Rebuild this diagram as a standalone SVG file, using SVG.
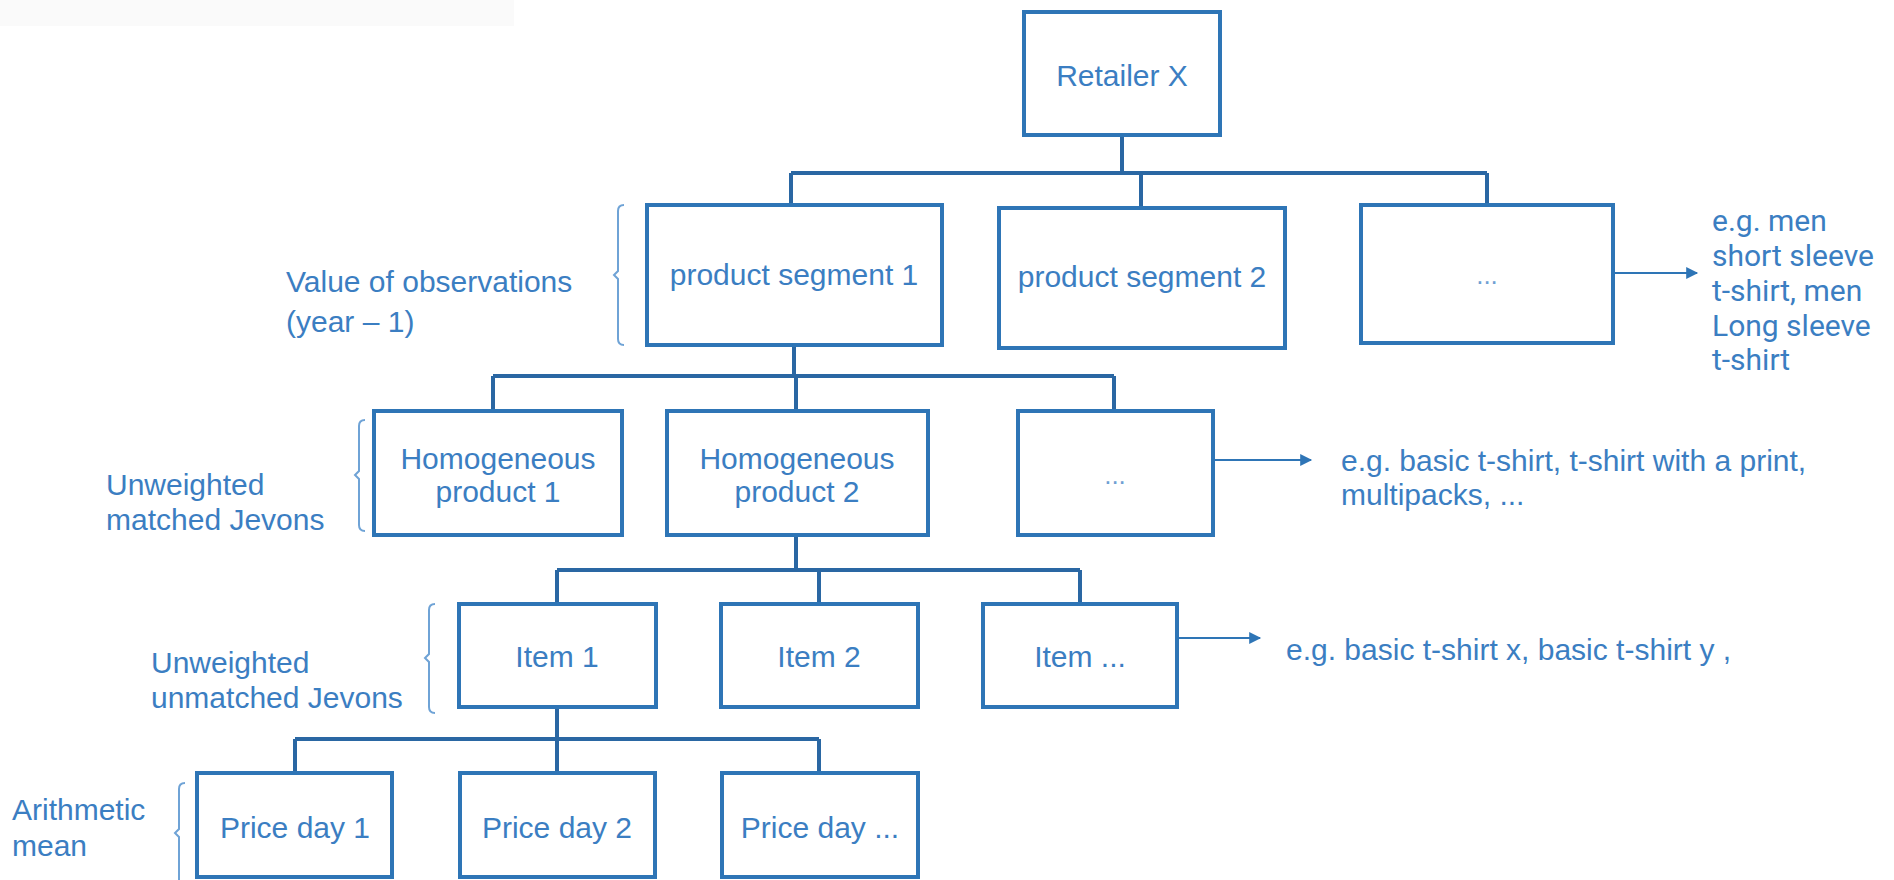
<svg xmlns="http://www.w3.org/2000/svg" width="1894" height="880" viewBox="0 0 1894 880">
  <style>
    .box { fill: #ffffff; stroke: #2e75b6; stroke-width: 4; }
    .link { fill: none; stroke: #2a67a3; stroke-width: 4; }
    .arrow { fill: none; stroke: #2e75b6; stroke-width: 2; marker-end: url(#head); }
    .brace { fill: none; stroke: #6fa3d6; stroke-width: 2; }
    .t { font-family: "Liberation Sans", Arial, sans-serif; font-size: 30px; fill: #3b7ec2; }
    .c { text-anchor: middle; }
    .dots { font-family: "Liberation Sans", Arial, sans-serif; font-size: 26px; fill: #6f9fd3; text-anchor: middle; }
    .note { font-family: Roboto, "Liberation Sans", sans-serif; font-size: 30px; fill: #3b7ec2; }
  </style>
  <defs>
    <marker id="head" viewBox="0 0 10 10" refX="9" refY="5" markerWidth="7.5" markerHeight="6" orient="auto" markerUnits="strokeWidth">
      <path d="M0,0 L10,5 L0,10 z" fill="#2e75b6"/>
    </marker>
  </defs>
  <rect width="1894" height="880" fill="#ffffff"/>
  <rect x="0" y="0" width="514" height="26" fill="#fafafa"/>

  <!-- connectors -->
  <g id="connectors">
    <path class="link" d="M1122,135 V173 M791,173 H1487 M791,173 V205 M1141,173 V208 M1487,173 V205"/>
    <path class="link" d="M794,345 V376 M493,376 H1114 M493,376 V411 M796,376 V411 M1114,376 V411"/>
    <path class="link" d="M796,535 V570 M557,570 H1080 M557,570 V604 M819,570 V604 M1080,570 V604"/>
    <path class="link" d="M557,707 V739 M295,739 H819 M295,739 V773 M557,739 V773 M819,739 V773"/>
    <line class="arrow" x1="1613" y1="273" x2="1697" y2="273"/>
    <line class="arrow" x1="1213" y1="460" x2="1311" y2="460"/>
    <line class="arrow" x1="1177" y1="638" x2="1260" y2="638"/>
  </g>

  <!-- level 1 -->
  <g id="retailer">
    <rect class="box" x="1024" y="12" width="196" height="123"/>
    <text class="t c" x="1122" y="86">Retailer X</text>
  </g>

  <!-- level 2: product segments -->
  <g id="segment1">
    <rect class="box" x="647" y="205" width="295" height="140"/>
    <text class="t c" x="794" y="285">product segment 1</text>
  </g>
  <g id="segment2">
    <rect class="box" x="999" y="208" width="286" height="140"/>
    <text class="t c" x="1142" y="287">product segment 2</text>
  </g>
  <g id="segment-more">
    <rect class="box" x="1361" y="205" width="252" height="138"/>
    <text class="dots" x="1487" y="284">...</text>
  </g>
  <g id="segment-note">
    <text class="note" x="1712" y="231">e.g. men</text>
    <text class="note" x="1712" y="266">short sleeve</text>
    <text class="note" x="1712" y="301">t-shirt, men</text>
    <text class="note" x="1712" y="336">Long sleeve</text>
    <text class="note" x="1712" y="370">t-shirt</text>
  </g>
  <g id="segment-label">
    <path class="brace" d="M624,205 Q618,205 618,211 V271 L614,275 L618,279 V339 Q618,345 624,345"/>
    <text class="t" x="286" y="292">Value of observations</text>
    <text class="t" x="286" y="332">(year – 1)</text>
  </g>

  <!-- level 3: homogeneous products -->
  <g id="homog1">
    <rect class="box" x="374" y="411" width="248" height="124"/>
    <text class="t c" x="498" y="469">Homogeneous</text>
    <text class="t c" x="498" y="502">product 1</text>
  </g>
  <g id="homog2">
    <rect class="box" x="667" y="411" width="261" height="124"/>
    <text class="t c" x="797" y="469">Homogeneous</text>
    <text class="t c" x="797" y="502">product 2</text>
  </g>
  <g id="homog-more">
    <rect class="box" x="1018" y="411" width="195" height="124"/>
    <text class="dots" x="1115" y="484">...</text>
  </g>
  <g id="homog-note">
    <text class="t" x="1341" y="471">e.g. basic t-shirt, t-shirt with a print,</text>
    <text class="t" x="1341" y="505">multipacks, ...</text>
  </g>
  <g id="homog-label">
    <path class="brace" d="M365,420 Q359,420 359,426 V471 L355,475 L359,479 V525 Q359,531 365,531"/>
    <text class="t" x="106" y="495">Unweighted</text>
    <text class="t" x="106" y="530">matched Jevons</text>
  </g>

  <!-- level 4: items -->
  <g id="item1">
    <rect class="box" x="459" y="604" width="197" height="103"/>
    <text class="t c" x="557" y="667">Item 1</text>
  </g>
  <g id="item2">
    <rect class="box" x="721" y="604" width="197" height="103"/>
    <text class="t c" x="819" y="667">Item 2</text>
  </g>
  <g id="item-more">
    <rect class="box" x="983" y="604" width="194" height="103"/>
    <text class="t c" x="1080" y="667">Item ...</text>
  </g>
  <g id="item-note">
    <text class="t" x="1286" y="660">e.g. basic t-shirt x, basic t-shirt y ,</text>
  </g>
  <g id="item-label">
    <path class="brace" d="M435,604 Q429,604 429,610 V654 L425,658 L429,662 V707 Q429,713 435,713"/>
    <text class="t" x="151" y="673">Unweighted</text>
    <text class="t" x="151" y="708">unmatched Jevons</text>
  </g>

  <!-- level 5: daily prices -->
  <g id="price1">
    <rect class="box" x="197" y="773" width="195" height="104"/>
    <text class="t c" x="295" y="838">Price day 1</text>
  </g>
  <g id="price2">
    <rect class="box" x="460" y="773" width="195" height="104"/>
    <text class="t c" x="557" y="838">Price day 2</text>
  </g>
  <g id="price-more">
    <rect class="box" x="722" y="773" width="196" height="104"/>
    <text class="t c" x="820" y="838">Price day ...</text>
  </g>
  <g id="price-label">
    <path class="brace" d="M185,783 Q179,783 179,789 V829 L175,833 L179,837 V880"/>
    <text class="t" x="12" y="820">Arithmetic</text>
    <text class="t" x="12" y="856">mean</text>
  </g>
</svg>
